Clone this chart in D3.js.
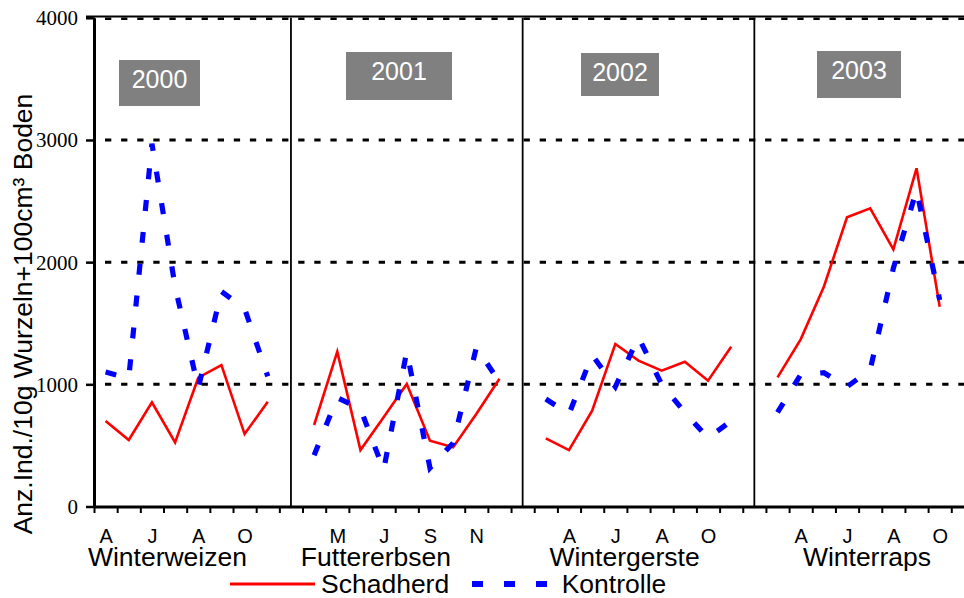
<!DOCTYPE html>
<html><head><meta charset="utf-8">
<script src="https://cdn.jsdelivr.net/npm/d3@7"></script>
<style>body{margin:0;background:#fff}svg{display:block}</style>
</head><body>
<svg id="c" width="964" height="598"></svg>
<script>
// ---------------- data ----------------
const crops = ["Winterweizen", "Futtererbsen", "Wintergerste", "Winterraps"];
const years = ["2000", "2001", "2002", "2003"];
// first category slot of each crop's series
const seriesStart = [0, 9, 19, 29];
// month tick labels, one per category slot (38 slots)
const monthLabels = ["A","","J","","A","","O","","",
                     "","M","","J","","S","","N","","",
                     "","A","","J","","A","","O","","",
                     "","A","","J","","A","","O",""];
const schadherd2000 = [700, 544, 853, 525, 1054, 1158, 593, 858];
const schadherd2001 = [667, 1267, 462, 730, 1003, 539, 485, 757, 1045];
const schadherd2002 = [558, 462, 784, 1330, 1194, 1112, 1185, 1030, 1308];
const schadherd2003 = [1057, 1368, 1799, 2367, 2441, 2105, 2768, 1635];
const kontrolle2000 = [1100, 1050, 2970, 1800, 970, 1760, 1620, 1065];
const kontrolle2001 = [420, 890, 800, 300, 1270, 315, 520, 1300, 1020];
const kontrolle2002 = [880, 757, 1240, 980, 1385, 1000, 770, 560, 700];
const kontrolle2003 = [770, 1080, 1095, 980, 1120, 1950, 2590, 1690];
const yTicks = [0, 1000, 2000, 3000, 4000];
const gridValues = [1000, 2000, 3000, 4000];
const seriesNames = ["Schadherd", "Kontrolle"];
const yTitle = "Anz.Ind./10g Wurzeln+100cm³ Boden";

const schadherd = [schadherd2000, schadherd2001, schadherd2002, schadherd2003];
const kontrolle = [kontrolle2000, kontrolle2001, kontrolle2002, kontrolle2003];

// ---------------- layout ----------------
const nSlots = 38;
const slotW = 23.17;
const x0 = 94;
const cropLabelAt = [3.17, 12.17, 22.9, 33.36];      // in slot units
const dividerAt = [8.5, 18.5, 28.5];                  // in slot units
const yearBoxes = [
  {x:119, y:60, w:81, h:46},
  {x:346, y:52, w:106, h:48},
  {x:581, y:53, w:78, h:43},
  {x:817, y:51, w:84, h:47}
];
const SANS = "'Liberation Sans', Arial, sans-serif";
const SERIF = "'Liberation Serif', 'Times New Roman', serif";
const RED = "#ff0000", BLUE = "#0000ff";

const svg = d3.select("#c");
const x = d3.scaleLinear().domain([0, nSlots]).range([x0, x0 + nSlots * slotW]);
const y = d3.scaleLinear().domain([0, 4000]).range([506.5, 17.8]);
const xr = x.range();

// gridlines
svg.append("g").selectAll("line").data(gridValues).join("line")
  .attr("x1", xr[0]).attr("x2", xr[1])
  .attr("y1", d => d === 4000 ? y(d) + 1 : y(d))
  .attr("y2", d => d === 4000 ? y(d) + 1 : y(d))
  .attr("stroke", "#000").attr("stroke-width", d => d === 4000 ? 2.5 : 3)
  .attr("stroke-dasharray", "6.3,9.8").attr("stroke-dashoffset", 5.1);

// top border
svg.append("line").attr("x1", 86).attr("x2", xr[1])
  .attr("y1", y(4000) - 1.2).attr("y2", y(4000) - 1.2)
  .attr("stroke", "#000").attr("stroke-width", 2);

// panel dividers
svg.append("g").selectAll("line").data(dividerAt).join("line")
  .attr("x1", d => x(d)).attr("x2", d => x(d))
  .attr("y1", y(4000)).attr("y2", y(0))
  .attr("stroke", "#000").attr("stroke-width", 1.8);

// left axis
const ya = svg.append("g").attr("transform", `translate(${x0},0)`)
  .call(d3.axisLeft(y).tickValues(yTicks).tickFormat(d3.format("d"))
    .tickSize(8).tickSizeOuter(0).tickPadding(8));
ya.select(".domain").attr("stroke-width", 3);
ya.selectAll(".tick line").attr("stroke-width", 2.5);
ya.selectAll(".tick text").attr("font-family", SERIF).attr("font-size", 21)
  .attr("fill", "#000").attr("x", -16).attr("dy", "0.33em");

// bottom axis (slot boundaries)
const xa = svg.append("g").attr("transform", `translate(0,${y(0)})`)
  .call(d3.axisBottom(x).tickValues(d3.range(0, nSlots + 1)).tickSize(6.5).tickSizeOuter(0).tickFormat(""));
xa.select(".domain").attr("stroke-width", 3);
xa.selectAll(".tick line").attr("stroke-width", 2);
xa.selectAll(".tick text").remove();

// month labels via axis at labelled slot centers
const labelled = d3.range(0, nSlots).filter(i => monthLabels[i] !== "");
const ma = svg.append("g").attr("transform", `translate(0,543)`)
  .call(d3.axisBottom(x).tickValues(labelled.map(i => i + 0.5))
    .tickSize(0).tickFormat((d) => monthLabels[Math.floor(d)]));
ma.select(".domain").remove();
ma.selectAll(".tick line").remove();
ma.selectAll(".tick text").attr("y", 0).attr("dy", 0)
  .attr("font-family", SANS).attr("font-size", 20).attr("fill", "#000");

// series
const line = d3.line().x(d => x(d.i + 0.5)).y(d => y(d.v));
function toPts(arr, p) { return arr.map((v, k) => ({i: seriesStart[p] + k, v})); }

svg.append("g").selectAll("path").data(schadherd).join("path")
  .attr("d", (arr, p) => line(toPts(arr, p)))
  .attr("fill", "none").attr("stroke", RED).attr("stroke-width", 2.6)
  .attr("stroke-linejoin", "miter");

svg.append("g").selectAll("path").data(kontrolle).join("path")
  .attr("d", (arr, p) => line(toPts(arr, p)))
  .attr("fill", "none").attr("stroke", BLUE).attr("stroke-width", 5.2)
  .attr("stroke-dasharray", "11,21");

// year boxes
const yb = svg.append("g").selectAll("g").data(years).join("g");
yb.append("rect")
  .attr("x", (d, i) => yearBoxes[i].x).attr("y", (d, i) => yearBoxes[i].y)
  .attr("width", (d, i) => yearBoxes[i].w).attr("height", (d, i) => yearBoxes[i].h)
  .attr("fill", "#808080");
yb.append("text")
  .attr("x", (d, i) => yearBoxes[i].x + yearBoxes[i].w / 2)
  .attr("y", (d, i) => yearBoxes[i].y + 27.5)
  .attr("text-anchor", "middle").attr("font-family", SANS).attr("font-size", 25)
  .attr("fill", "#fff").text(d => d);

// crop names
svg.append("g").selectAll("text").data(crops).join("text")
  .attr("x", (d, i) => x(cropLabelAt[i])).attr("y", 566)
  .attr("text-anchor", "middle").attr("font-family", SANS).attr("font-size", 26.5)
  .attr("fill", "#000").text(d => d);

// y title
svg.append("text").attr("transform", "translate(31.5,314) rotate(-90)")
  .attr("text-anchor", "middle").attr("font-family", SANS).attr("font-size", 26.5)
  .attr("fill", "#000").text(yTitle);

// legend
const lg = svg.append("g");
lg.append("line").attr("x1", 230).attr("x2", 315).attr("y1", 584).attr("y2", 584)
  .attr("stroke", RED).attr("stroke-width", 3);
lg.append("text").attr("x", 321).attr("y", 593).attr("font-family", SANS)
  .attr("font-size", 26.5).attr("fill", "#000").text(seriesNames[0]);
lg.append("line").attr("x1", 472).attr("x2", 548).attr("y1", 584).attr("y2", 584)
  .attr("stroke", BLUE).attr("stroke-width", 6).attr("stroke-dasharray", "11,21");
lg.append("text").attr("x", 561.7).attr("y", 593).attr("font-family", SANS)
  .attr("font-size", 26.5).attr("fill", "#000").text(seriesNames[1]);
</script>
</body></html>
